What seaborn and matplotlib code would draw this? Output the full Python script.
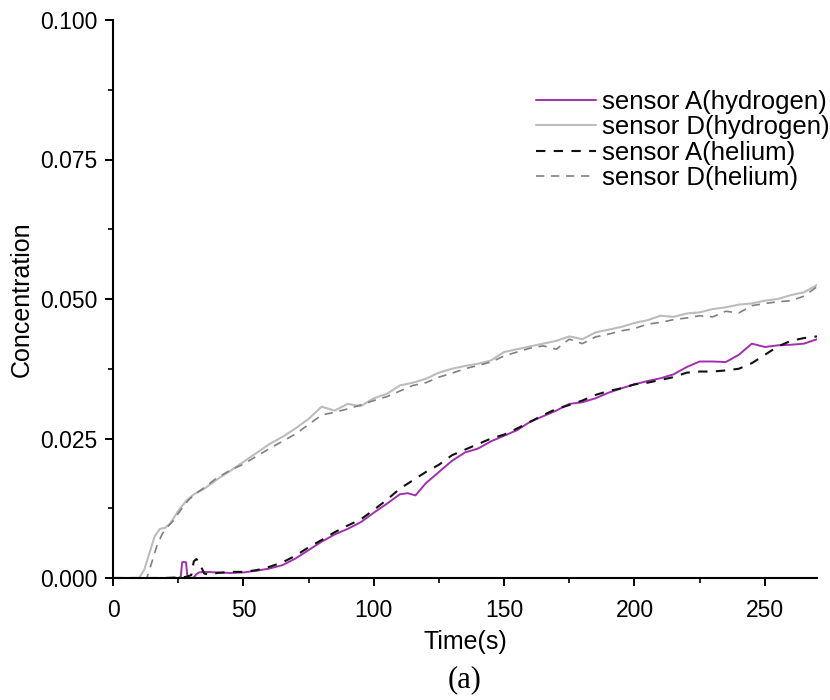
import matplotlib
matplotlib.use("Agg")
import matplotlib.pyplot as plt
from matplotlib.ticker import FormatStrFormatter, MultipleLocator
import seaborn as sns
import pandas as pd

# Sensor A, hydrogen release
time_a_h2 = [0, 10, 20, 25, 26, 26.5, 27, 28, 28.5, 29, 30, 31, 32, 33, 35, 40, 45, 50,
             55, 60, 65, 70, 75, 80, 85, 90, 95, 100, 105, 110, 113, 116, 120, 125, 130,
             135, 140, 145, 150, 155, 160, 165, 170, 175, 180, 185, 190, 195, 200, 205,
             210, 215, 220, 225, 230, 235, 240, 245, 250, 255, 260, 265, 270]
conc_a_h2 = [0, 0, 0, 0, 0.0002, 0.0028, 0.0029, 0.0028, 0.0004, 0.0, 0.0, 0.0001, 0.0007,
             0.0010, 0.0011, 0.0010, 0.0009, 0.0010, 0.0013, 0.0017, 0.0023, 0.0035, 0.0050,
             0.0065, 0.0078, 0.0088, 0.0100, 0.0117, 0.0133, 0.0150, 0.0152, 0.0148, 0.0170,
             0.0190, 0.0210, 0.0225, 0.0232, 0.0245, 0.0255, 0.0265, 0.0280, 0.0290, 0.0300,
             0.0312, 0.0315, 0.0322, 0.0332, 0.0340, 0.0347, 0.0353, 0.0358, 0.0365, 0.0378,
             0.0388, 0.0388, 0.0387, 0.0400, 0.0420, 0.0414, 0.0417, 0.0418, 0.0420, 0.0428]

# Sensor D, hydrogen release
time_d_h2 = [0, 5, 10, 12, 14, 16, 18, 20, 22, 25, 28, 31, 35, 40, 45, 50, 55, 60, 65, 70,
             75, 80, 85, 90, 95, 100, 105, 110, 115, 120, 125, 130, 135, 140, 145, 150, 155,
             160, 165, 170, 175, 180, 185, 190, 195, 200, 205, 210, 215, 220, 225, 230, 235,
             240, 245, 250, 255, 260, 265, 270]
conc_d_h2 = [0, 0, 0, 0.0015, 0.0045, 0.0075, 0.0088, 0.0090, 0.0098, 0.0120, 0.0138, 0.0150,
             0.0160, 0.0177, 0.0192, 0.0208, 0.0224, 0.0240, 0.0253, 0.0268, 0.0285, 0.0307,
             0.0300, 0.0312, 0.0308, 0.0322, 0.0330, 0.0345, 0.0350, 0.0357, 0.0368, 0.0375,
             0.0380, 0.0384, 0.0390, 0.0405, 0.0410, 0.0415, 0.0420, 0.0425, 0.0433, 0.0428,
             0.0440, 0.0445, 0.0450, 0.0457, 0.0462, 0.0470, 0.0468, 0.0474, 0.0476, 0.0482,
             0.0485, 0.0490, 0.0492, 0.0497, 0.0500, 0.0507, 0.0512, 0.0525]

# Sensor A, helium release
time_a_he = [0, 10, 20, 25, 28, 30, 31, 32, 33, 34, 35, 37, 40, 45, 50, 55, 60, 65, 70, 75,
             80, 85, 90, 95, 100, 105, 110, 115, 120, 125, 130, 135, 140, 145, 150, 155, 160,
             165, 170, 175, 180, 185, 190, 195, 200, 205, 210, 215, 220, 225, 230, 235, 240,
             245, 250, 255, 260, 265, 270]
conc_a_he = [0, 0, 0, 0.0001, 0.0002, 0.0005, 0.0030, 0.0034, 0.0028, 0.0018, 0.0008, 0.0006,
             0.0009, 0.0011, 0.0011, 0.0014, 0.0020, 0.0028, 0.0040, 0.0055, 0.0068, 0.0082,
             0.0094, 0.0105, 0.0122, 0.0140, 0.0160, 0.0175, 0.0190, 0.0203, 0.0220, 0.0230,
             0.0240, 0.0250, 0.0257, 0.0268, 0.0280, 0.0292, 0.0303, 0.0310, 0.0318, 0.0328,
             0.0335, 0.0340, 0.0347, 0.0350, 0.0355, 0.0360, 0.0368, 0.0370, 0.0370, 0.0372,
             0.0375, 0.0385, 0.0400, 0.0415, 0.0425, 0.0430, 0.0433]

# Sensor D, helium release
time_d_he = [0, 5, 10, 13, 15, 17, 19, 21, 23, 26, 29, 32, 35, 40, 45, 50, 55, 60, 65, 70,
             75, 80, 85, 90, 95, 100, 105, 110, 115, 120, 125, 130, 135, 140, 145, 150, 155,
             160, 165, 170, 175, 180, 185, 190, 195, 200, 205, 210, 215, 220, 225, 230, 235,
             240, 245, 250, 255, 260, 265, 270]
conc_d_he = [0, 0, 0, 0, 0.0030, 0.0060, 0.0080, 0.0092, 0.0102, 0.0122, 0.0140, 0.0152,
             0.0162, 0.0180, 0.0193, 0.0204, 0.0218, 0.0232, 0.0245, 0.0258, 0.0275, 0.0292,
             0.0297, 0.0303, 0.0310, 0.0318, 0.0325, 0.0335, 0.0345, 0.0350, 0.0360, 0.0367,
             0.0375, 0.0381, 0.0387, 0.0398, 0.0405, 0.0412, 0.0416, 0.0410, 0.0428, 0.0420,
             0.0432, 0.0437, 0.0443, 0.0447, 0.0455, 0.0458, 0.0463, 0.0466, 0.0470, 0.0468,
             0.0478, 0.0475, 0.0488, 0.0492, 0.0495, 0.0497, 0.0505, 0.0522]

labels = ["sensor A(hydrogen)", "sensor D(hydrogen)", "sensor A(helium)", "sensor D(helium)"]
x_ticks = [0, 50, 100, 150, 200, 250]
y_ticks = [0.000, 0.025, 0.050, 0.075, 0.100]

sns.set_theme(style="ticks")
plt.rcParams["font.family"] = ["Liberation Sans", "DejaVu Sans"]
plt.rcParams["text.color"] = "black"
plt.rcParams["axes.labelcolor"] = "black"
plt.rcParams["xtick.color"] = "black"
plt.rcParams["ytick.color"] = "black"

fig = plt.figure(figsize=(8.3, 7), dpi=100)
ax = fig.add_axes([113 / 830, 122 / 700, 704 / 830, 558 / 700])

series = [
    (time_a_h2, conc_a_h2, labels[0], "#a12fb0", "-", 1.4),
    (time_d_h2, conc_d_h2, labels[1], "#bcbcbc", "-", 1.5),
    (time_a_he, conc_a_he, labels[2], "#111111", (0, (4.5, 4)), 1.5),
    (time_d_he, conc_d_he, labels[3], "#808080", (0, (5, 4)), 1.2),
]
for t, c, lab, col, ls, lw in series:
    df = pd.DataFrame({"Time": t, "Concentration": c})
    sns.lineplot(data=df, x="Time", y="Concentration", ax=ax, color=col,
                 linestyle=ls, linewidth=lw, label=lab, estimator=None, sort=False)

ax.set_xlim(0, 270)
ax.set_ylim(0, 0.1)
ax.set_xticks(x_ticks)
ax.set_yticks(y_ticks)
ax.xaxis.set_minor_locator(MultipleLocator(25))
ax.yaxis.set_minor_locator(MultipleLocator(0.0125))
ax.yaxis.set_major_formatter(FormatStrFormatter("%.3f"))

for side in ("top", "right"):
    ax.spines[side].set_visible(False)
for side in ("left", "bottom"):
    ax.spines[side].set_linewidth(1.5)
    ax.spines[side].set_color("black")

ax.tick_params(axis="both", which="major", direction="out", length=6, width=1.4,
               labelsize=16.5, colors="black", labelcolor="black")
ax.tick_params(axis="x", which="major", pad=9)
ax.tick_params(axis="y", which="major", pad=5)
ax.tick_params(axis="both", which="minor", direction="out", length=3.5, width=1.2,
               colors="black")

ax.set_xlabel("Time(s)", fontsize=18, labelpad=6, color="black")
ax.set_ylabel("Concentration", fontsize=18, labelpad=5, color="black")

leg = ax.legend(loc="upper right", bbox_to_anchor=(842 / 830, 1 - 77 / 700),
                bbox_transform=fig.transFigure, frameon=False, fontsize=18.5,
                handlelength=2.35, handletextpad=0.2, labelspacing=0.06, borderpad=0,
                labelcolor="black")

fig.text(465 / 830, 1 - 680 / 700, "(a)", ha="center", va="center", fontsize=22,
         color="black", family=["Liberation Serif", "DejaVu Serif"])

fig.savefig("out.png", dpi=100, facecolor="white")
